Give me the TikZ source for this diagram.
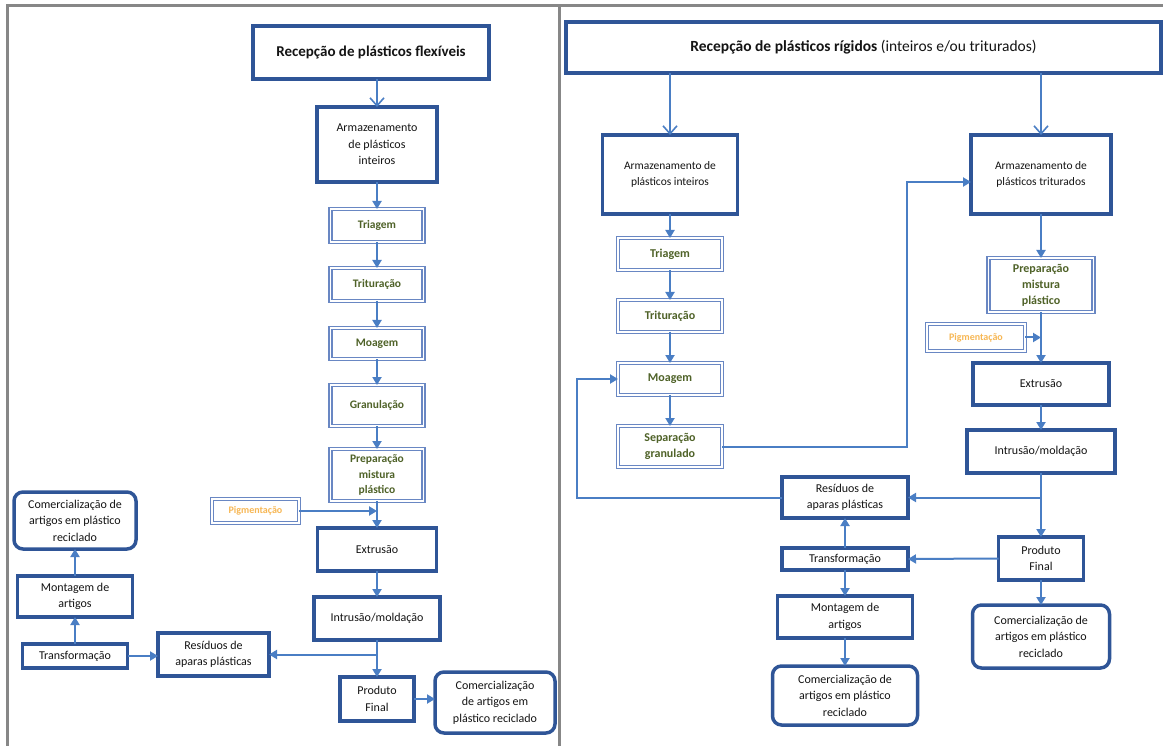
\documentclass[tikz,border=0pt]{standalone}
\usepackage{fontspec}
\setmainfont{Carlito}
\usetikzlibrary{arrows.meta}
\definecolor{boxblue}{RGB}{47,85,151}
\definecolor{arrblue}{RGB}{74,126,196}
\definecolor{dblblue}{RGB}{105,135,195}
\definecolor{greentxt}{RGB}{79,98,40}
\definecolor{orangetxt}{RGB}{247,183,84}
\definecolor{framegray}{RGB}{135,135,135}
\definecolor{txt}{RGB}{20,20,20}
\begin{document}
\begin{tikzpicture}[x=1pt,y=-1pt,
  every node/.style={inner sep=0pt, outer sep=0pt, align=center, text=txt},
  tbox/.style={draw=boxblue, line width=3.5pt, font=\fontsize{12}{16.5}\selectfont},
  rbox/.style={tbox, rounded corners=9pt},
  gbox/.style={draw=dblblue, line width=1.7pt, double=white, double distance=1.2pt, text=greentxt, font=\bfseries\fontsize{11.5}{15.5}\selectfont},
  pbox/.style={gbox, text=orangetxt, font=\bfseries\fontsize{10}{12}\selectfont},
  arr/.style={draw=arrblue, line width=2pt, -{Triangle[length=8pt,width=9pt]}},
  oarr/.style={draw=arrblue, line width=1.6pt, -{Straight Barb[length=8pt,width=14pt]}},
  frame/.style={draw=framegray, line width=2.5pt}]
\fill[white] (0,0) rectangle (1163,746);
\useasboundingbox (0,0) rectangle (1163,746);
% frame
\draw[frame] (7.5,746) -- (7.5,5.5) -- (1163,5.5);
\draw[frame] (559.5,5.5) -- (559.5,746);

% ---------------- left panel ----------------
\node[tbox, minimum width=236, minimum height=53, font=\bfseries\fontsize{15}{18}\selectfont] (recF) at (371,52.5) {Recepção de plásticos flexíveis};
\node[tbox, minimum width=120, minimum height=75] (armL) at (377,144.5) {Armazenamento\\de plásticos\\inteiros};
\node[gbox, minimum width=93, minimum height=33] (triL) at (377,225.5) {Triagem};
\node[gbox, minimum width=93, minimum height=33] (truL) at (377,284.5) {Trituração};
\node[gbox, minimum width=93, minimum height=31] (moaL) at (377,343.5) {Moagem};
\node[gbox, minimum width=93, minimum height=41] (graL) at (377,405.5) {Granulação};
\node[gbox, minimum width=93, minimum height=52] (preL) at (377,475) {Preparação\\mistura\\plástico};
\node[pbox, minimum width=87, minimum height=24] (pigL) at (255.5,511) {Pigmentação};
\node[tbox, minimum width=119, minimum height=43] (extL) at (377,549.5) {Extrusão};
\node[tbox, minimum width=126, minimum height=43] (intL) at (377,618.5) {Intrusão/moldação};
\node[tbox, minimum width=111, minimum height=43] (resL) at (213.5,654.5) {Resíduos de\\aparas plásticas};
\node[tbox, minimum width=105, minimum height=24] (traL) at (75,656) {Transformação};
\node[tbox, minimum width=115, minimum height=41] (monL) at (75,596.5) {Montagem de\\artigos};
\node[rbox, minimum width=122, minimum height=57] (comL1) at (75,520.5) {Comercialização de\\artigos em plástico\\reciclado};
\node[tbox, minimum width=74, minimum height=44] (proL) at (377,699) {Produto\\Final};
\node[rbox, minimum width=120, minimum height=61] (comL2) at (495,702.5) {Comercialização\\de artigos em\\plástico reciclado};

\draw[oarr] (recF.south -| armL.north) -- (armL.north);
\draw[arr] (armL.south) -- (triL.north);
\draw[arr] (triL.south) -- (truL.north);
\draw[arr] (truL.south) -- (moaL.north);
\draw[arr] (moaL.south) -- (graL.north);
\draw[arr] (graL.south) -- (preL.north);
\draw[arr] (preL.south) -- (extL.north);
\draw[arr] (pigL.east) -- (pigL.east -| preL.south);
\draw[arr] (extL.south) -- (intL.north);
\draw[arr] (intL.south) -- (proL.north);
\draw[arr] (intL.south |- resL.east) -- (resL.east);
\draw[arr] (traL.east) -- (traL.east -| resL.west);
\draw[arr] (traL.north) -- (monL.south);
\draw[arr] (monL.north) -- (comL1.south);
\draw[arr] (proL.east) -- (proL.east -| comL2.west);

% ---------------- right panel ----------------
\node[tbox, minimum width=595, minimum height=51, font=\fontsize{15.5}{18}\selectfont] (recR) at (863.5,47.5) {\textbf{Recepção de plásticos rígidos} (inteiros e/ou triturados)};
\node[tbox, minimum width=135, minimum height=79, font=\fontsize{11.5}{16}\selectfont] (armRi) at (670,174.5) {Armazenamento de\\plásticos inteiros};
\node[tbox, minimum width=140, minimum height=79, font=\fontsize{11.5}{16}\selectfont] (armRt) at (1041,174.5) {Armazenamento de\\plásticos triturados};
\node[gbox, minimum width=104, minimum height=32, font=\bfseries\fontsize{12}{16}\selectfont] (triR) at (670,254) {Triagem};
\node[gbox, minimum width=104, minimum height=32, font=\bfseries\fontsize{12}{16}\selectfont] (truR) at (670,316) {Trituração};
\node[gbox, minimum width=104, minimum height=32, font=\bfseries\fontsize{12}{16}\selectfont] (moaR) at (670,379) {Moagem};
\node[gbox, minimum width=104, minimum height=41, font=\bfseries\fontsize{12}{16}\selectfont] (sepR) at (670,446.5) {Separação\\granulado};
\node[gbox, minimum width=105, minimum height=54, font=\bfseries\fontsize{12}{16}\selectfont] (preR) at (1041,285) {Preparação\\mistura\\plástico};
\node[pbox, minimum width=98, minimum height=27] (pigR) at (976,337.5) {Pigmentação};
\node[tbox, minimum width=136, minimum height=42] (extR) at (1041,384) {Extrusão};
\node[tbox, minimum width=148, minimum height=43] (intR) at (1041,451.5) {Intrusão/moldação};
\node[tbox, minimum width=126, minimum height=41] (resR) at (845,497.5) {Resíduos de\\aparas plásticas};
\node[tbox, minimum width=85, minimum height=43] (proR) at (1041,558.5) {Produto\\Final};
\node[tbox, minimum width=126, minimum height=22] (traR) at (845,559) {Transformação};
\node[tbox, minimum width=135, minimum height=42] (monR) at (845,617) {Montagem de\\artigos};
\node[rbox, minimum width=145, minimum height=59] (comR1) at (845,695.5) {Comercialização de\\artigos em plástico\\reciclado};
\node[rbox, minimum width=137, minimum height=63] (comR2) at (1041,636.5) {Comercialização de\\artigos em plástico\\reciclado};

\coordinate (jt) at (907,182);
\coordinate (lp) at (577,379);

\draw[oarr] (recR.south -| armRi.north) -- (armRi.north);
\draw[oarr] (recR.south -| armRt.north) -- (armRt.north);
\draw[arr] (armRi.south) -- (triR.north);
\draw[arr] (triR.south) -- (truR.north);
\draw[arr] (truR.south) -- (moaR.north);
\draw[arr] (moaR.south) -- (sepR.north);
\draw[arr] (sepR.east) -| (jt) -- (jt -| armRt.west);
\draw[arr] (armRt.south) -- (preR.north);
\draw[arr] (preR.south) -- (extR.north);
\draw[arr] (pigR.east) -- (pigR.east -| preR.south);
\draw[arr] (extR.south) -- (intR.north);
\draw[arr] (intR.south) -- (proR.north);
\draw[arr] (intR.south |- resR.east) -- (resR.east);
\draw[arr] (resR.west) -| (lp) -- (moaR.west);
\draw[arr] (proR.west) -- (traR.east);
\draw[arr] (traR.north) -- (resR.south);
\draw[arr] (traR.south) -- (monR.north);
\draw[arr] (monR.south) -- (comR1.north);
\draw[arr] (proR.south) -- (comR2.north);
\end{tikzpicture}
\end{document}
